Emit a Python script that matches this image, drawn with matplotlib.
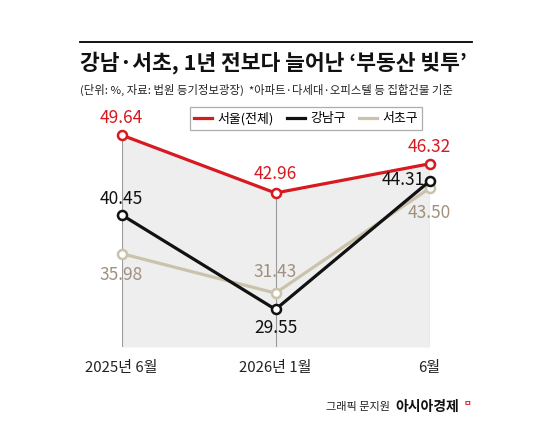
import matplotlib
matplotlib.use("Agg")
import matplotlib.pyplot as plt

plt.rcParams['font.family'] = ['Noto Sans CJK KR', 'DejaVu Sans']

# ---- data ----
periods = ["2025년 6월", "2026년 1월", "6월"]
seoul = [49.64, 42.96, 46.32]
gangnam = [40.45, 29.55, 44.31]
seocho = [35.98, 31.43, 43.50]
series_names = ["서울(전체)", "강남구", "서초구"]

title = "강남·서초, 1년 전보다 늘어난 ‘부동산 빚투’"
subtitle = "(단위: %, 자료: 법원 등기정보광장)  *아파트·다세대·오피스텔 등 집합건물 기준"

RED = "#d71920"
BLACK = "#111111"
BEIGE = "#cbc2ab"
BEIGE_TXT = "#a09080"

W, H = 550, 440
fig = plt.figure(figsize=(W / 100, H / 100), dpi=100)
fig.patch.set_facecolor("white")

def fx(px):
    return px / W

def fy(py):
    return 1 - py / H

ax = fig.add_axes([fx(121.5), fy(347), (429.5 - 121.5) / W, (347 - 100) / H])
ax.set_xlim(0, 2)
ax.set_ylim(25.22, 53.67)
ax.axis("off")

x = list(range(len(periods)))
ymin = ax.get_ylim()[0]

ax.fill_between(x, seoul, ymin, color="#eeeeee", zorder=0, lw=0)
for xi, yi in zip(x, seoul):
    ax.plot([xi, xi], [ymin, yi], color="#9a9a9a", lw=0.8, zorder=1)

for vals, c in [(seocho, BEIGE), (gangnam, BLACK), (seoul, RED)]:
    ax.plot(x, vals, color=c, lw=2.3, marker="o", markersize=6.5,
            markerfacecolor="white", markeredgecolor=c, markeredgewidth=1.8,
            clip_on=False, zorder=3)

lab_fs = 12.5
def lab(xi, yi, txt, color, dy, dx=0, ha="center"):
    ax.annotate(txt, (xi, yi), xytext=(dx, dy), textcoords="offset pixels",
                ha=ha, va="center", fontsize=lab_fs, color=color, zorder=5,
                fontweight="medium")

lab(0, seoul[0], f"{seoul[0]:.2f}", RED, 17)
lab(1, seoul[1], f"{seoul[1]:.2f}", RED, 19)
lab(2, seoul[2], f"{seoul[2]:.2f}", RED, 17)
lab(0, gangnam[0], f"{gangnam[0]:.2f}", BLACK, 16)
lab(1, gangnam[1], f"{gangnam[1]:.2f}", BLACK, -19)
lab(2, gangnam[2], f"{gangnam[2]:.2f}", BLACK, 1, dx=-5, ha="right")
lab(0, seocho[0], f"{seocho[0]:.2f}", BEIGE_TXT, -21)
lab(1, seocho[1], f"{seocho[1]:.2f}", BEIGE_TXT, 21)
lab(2, seocho[2], f"{seocho[2]:.2f}", BEIGE_TXT, -25)

# x labels
for xi, p in zip(x, periods):
    ax.annotate(p, (xi, ymin), xytext=(0, -21), textcoords="offset pixels",
                ha="center", va="center", fontsize=10.8, color="#222222")

# top rule
fig.add_artist(plt.Line2D([fx(80), fx(472)], [fy(42), fy(42)], color="black", lw=1.3))

fig.text(fx(80), fy(63), title, fontsize=15.5, fontweight="heavy",
         ha="left", va="center", color="#111111")
fig.text(fx(80), fy(90), subtitle, fontsize=8.2, ha="left", va="center",
         color="#222222")

# legend
handles = [plt.Line2D([], [], color=c, lw=2.3) for c in (RED, BLACK, BEIGE)]
leg = fig.legend(handles, series_names, loc="center",
                 bbox_to_anchor=(fx(306), fy(118.5)), ncol=3,
                 frameon=True, fancybox=False, edgecolor="#999999",
                 fontsize=9.3, handlelength=1.4, handletextpad=0.4,
                 columnspacing=1.0, borderpad=0.35)
leg.get_frame().set_linewidth(0.9)

# footer
fig.text(fx(390), fy(407), "그래픽 문지원", fontsize=8, ha="right", va="center",
         color="#222222")
fig.text(fx(395), fy(407), "아시아경제", fontsize=10, fontweight="heavy",
         ha="left", va="center", color="#111111")
fig.text(fx(467), fy(403), "ㅁ", fontsize=6, fontweight="bold",
         ha="center", va="center", color=RED)

fig.savefig("out.png", dpi=100, facecolor="white")
